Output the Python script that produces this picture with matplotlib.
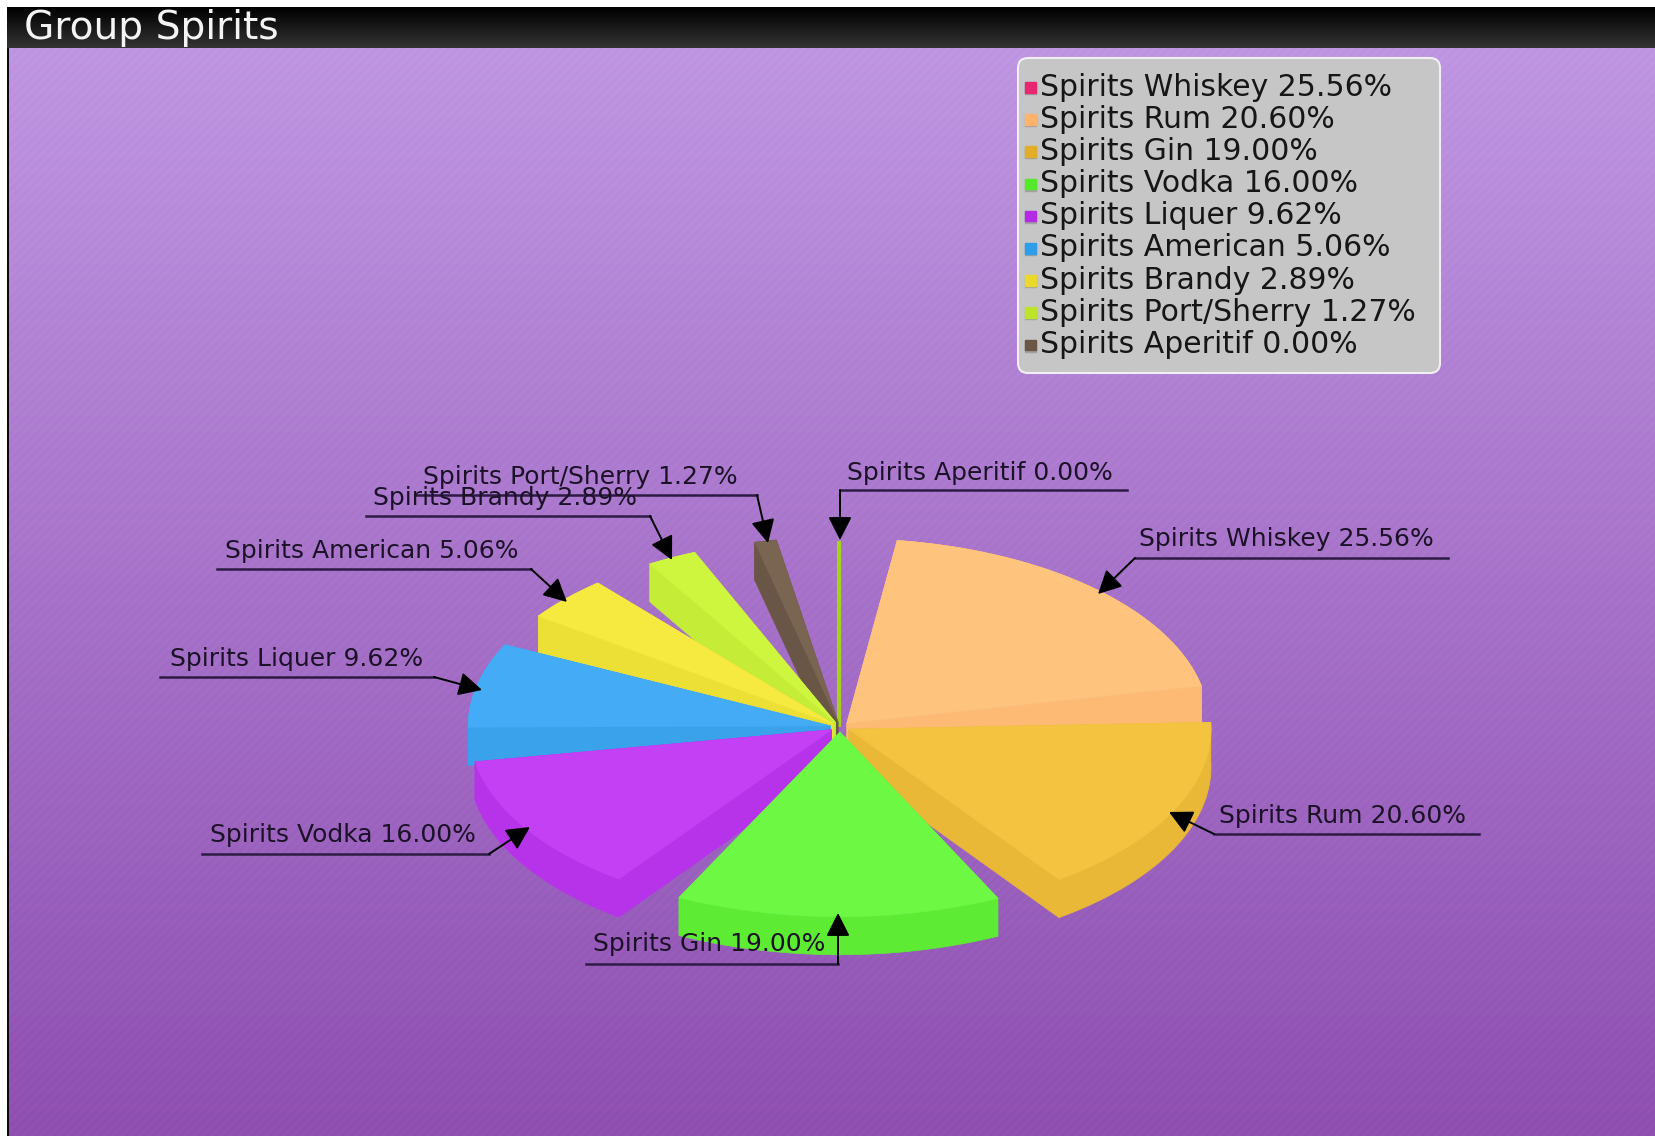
import numpy as np
import matplotlib
matplotlib.use("Agg")
import matplotlib.pyplot as plt
from matplotlib.patches import Polygon, Rectangle, FancyBboxPatch

W, H = 1655, 1136

names = ["Spirits Whiskey", "Spirits Rum", "Spirits Gin", "Spirits Vodka", "Spirits Liquer",
         "Spirits American", "Spirits Brandy", "Spirits Port/Sherry", "Spirits Aperitif"]
shares = [25.56, 20.60, 19.00, 16.00, 9.62, 5.06, 2.89, 1.27, 0.00]

legend_colors = ["#E5286F", "#FDB36B", "#E3AE27", "#55E82B", "#B42BE6",
                 "#2E9DEA", "#EAD92B", "#BDE32B", "#6B5545"]
top_colors = ["#FEC47E", "#F4C440", "#6DF943", "#C340F4", "#44ACF6",
              "#F6E940", "#CFF63F", "#7A6553", "#A4D21A"]
wall_colors = ["#FDBA75", "#E9B836", "#5DEC33", "#B733E9", "#39A2EA",
               "#ECE036", "#C5EC36", "#6A5646", "#A4D21A"]

# label layout: text x, text y, then the leader line (far end, elbow, arrow tip)
label_pos = [(1139, 539), (1219, 816), (593, 944), (210, 835), (170, 659),
             (225, 551), (373, 498), (423, 477), (847, 473)]
leaders = [((1448, 558), (1135, 558), (1098, 594)),
           ((1479, 834), (1214, 834), (1169, 812)),
           ((586, 964), (838, 964), (838, 913)),
           ((202, 854), (489, 854), (530, 827)),
           ((160, 677), (434, 677), (482, 690)),
           ((217, 569), (531, 569), (567, 602)),
           ((366, 516), (650, 516), (672, 560)),
           ((416, 495), (757, 495), (768, 543)),
           ((1127, 490), (840, 490), (840, 540))]

CX, CY = 840, 727
R, SQUASH, DEPTH = 362, 0.51, 38
GAP, EXPLODE = 9.6, 10
SWEEP = 275.0
START = 91.6


def pt(x, y, r, deg):
    a = np.radians(deg)
    return x + r * np.cos(a), y - SQUASH * r * np.sin(a)


def main():
    fig = plt.figure(figsize=(W / 100, H / 100), dpi=100, facecolor="white")
    ax = fig.add_axes([0, 0, 1, 1])
    ax.set_xlim(0, W)
    ax.set_ylim(H, 0)
    ax.axis("off")

    # background gradient with the faint diagonal hatch
    yy, xx = np.mgrid[0:H - 48, 8:W]
    t = yy[..., None] / (H - 48)
    rgb = (1 - t) * np.array([190, 149, 225]) + t * np.array([141, 78, 176])
    rgb = rgb + (((xx + yy) % 9 < 4)[..., None] * 3.0)
    ax.imshow(rgb.clip(0, 255) / 255, extent=(8.5, W, H, 48), aspect="auto",
              interpolation="nearest", zorder=0)
    ax.add_patch(Rectangle((7, 7), 1.5, H, color="#0A0A0A", lw=0, zorder=1))

    # header bar
    head = np.linspace(0.0, 0.2, 41)[:, None]
    ax.imshow(np.repeat(head, 3, axis=1)[:, None, :], extent=(7, W, 48, 7), aspect="auto", zorder=1)
    ax.set_xlim(0, W)
    ax.set_ylim(H, 0)
    ax.text(24, 28, "Group Spirits", color="#F4F4F4", fontsize=28.2, va="center", ha="left", zorder=2)

    # slices, angles run clockwise from the top with a fixed gap before each one
    spans = [s / 100 * SWEEP for s in shares]
    a = START
    slices = []
    for i, s in enumerate(spans):
        a -= GAP
        slices.append((i, a, a - s))
        a -= s

    # back to front
    slices.sort(key=lambda v: -np.sin(np.radians((v[1] + v[2]) / 2)))
    for z, (i, a0, a1) in enumerate(slices):
        mid = (a0 + a1) / 2
        tx, ty = pt(CX, CY, EXPLODE, mid)
        z0 = 3 + z * 0.1
        if shares[i] == 0:
            # the empty slice is only a straight upright sliver
            ax.plot([CX - 1, CX - 1], [CY, CY - SQUASH * R - 1], color=top_colors[i], lw=3, zorder=z0,
                    solid_capstyle="butt")
            continue
        angs = np.linspace(a0, a1, 80)
        arc = np.array([pt(tx, ty, R, d) for d in angs])
        low = arc + [0, DEPTH]
        tip, tip_low = (tx, ty), (tx, ty + DEPTH)
        kw = dict(facecolor=wall_colors[i], edgecolor=wall_colors[i], lw=0.5, zorder=z0)
        ax.add_patch(Polygon([tip, arc[0], low[0], tip_low], **kw))
        ax.add_patch(Polygon([tip, arc[-1], low[-1], tip_low], **kw))
        ax.add_patch(Polygon(np.vstack([arc, low[::-1]]), **kw))
        ax.add_patch(Polygon(np.vstack([[tip], arc]), facecolor=top_colors[i],
                             edgecolor=top_colors[i], lw=0.5, zorder=z0 + 0.01))

    # callouts
    for i, (n, s) in enumerate(zip(names, shares)):
        far, elbow, tip = leaders[i]
        ax.plot([far[0], elbow[0]], [far[1], elbow[1]], color="#2E1B45", lw=1.8, zorder=6)
        ax.annotate("", xy=tip, xytext=elbow, zorder=6,
                    arrowprops=dict(arrowstyle="-|>,head_length=0.75,head_width=0.38", mutation_scale=19,
                                    color="black", shrinkA=0, shrinkB=0, lw=1.4))
        ax.text(label_pos[i][0], label_pos[i][1], f"{n} {s:.2f}%", fontsize=18, color="#1C1228",
                va="center", ha="left", zorder=7)

    # legend box
    ax.add_patch(FancyBboxPatch((1026, 66), 406, 299, boxstyle="round,pad=8,rounding_size=10",
                                facecolor="#C6C6C6", edgecolor="#F2EEF6", lw=1.5, zorder=8))
    for i, (n, s) in enumerate(zip(names, shares)):
        y = 88 + 32.2 * i
        ax.add_patch(Rectangle((1025, y - 5), 11, 11, color="#A0A0A0", zorder=9))
        ax.add_patch(Rectangle((1025, y - 6), 10.5, 10.5, color=legend_colors[i], zorder=9))
        ax.text(1040, y - 1, f"{n} {s:.2f}%", fontsize=21.5, color="#161616",
                va="center", ha="left", zorder=10)

    fig.savefig("out.png", dpi=100)


if __name__ == "__main__":
    main()
